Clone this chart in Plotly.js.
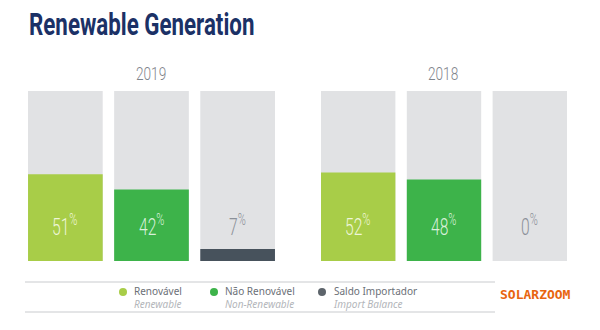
<!DOCTYPE html>
<html>
<head>
<meta charset="utf-8">
<script src="https://cdn.plot.ly/plotly-3.0.1.min.js"></script>
<style>html,body{margin:0;padding:0;background:#fff;}#chart{width:600px;height:330px;}</style>
</head>
<body>
<div id="chart"></div>
<script>
// ---- data ----
const years = ['2019', '2018'];
const categories = ['Renovável', 'Não Renovável', 'Saldo Importador'];
const categoriesEn = ['Renewable', 'Non-Renewable', 'Import Balance'];
const values2019 = [51, 42, 7];
const values2018 = [52, 48, 0];
const totalShare = [100, 100, 100];

// ---- styles ----
const fillColors = ['#a8cd48', '#3db34a', '#47525c'];
const legendColors = ['#a8cd48', '#3db34a', '#5d646b'];
const bgColor = '#e1e2e4';
const labelColors = ['#eef6d8', '#d8f0da', '#8b9098'];
const condFont = 'Roboto, Noto Sans, sans-serif';
const W = 600, H = 330;
const px = x => x / W;
const py = y => 1 - y / H;

const seriesByYear = [values2019, values2018];
const traces = [];
const annotations = [];
const condensed = []; // [annotation index, scale, anchor]
seriesByYear.forEach((vals, gi) => {
  const xa = gi === 0 ? 'x' : 'x2';
  traces.push({
    type: 'bar', x: categories, y: totalShare, xaxis: xa, yaxis: 'y',
    marker: {color: bgColor}, hoverinfo: 'skip', showlegend: false
  });
  traces.push({
    type: 'bar', x: categories, y: vals, xaxis: xa, yaxis: 'y',
    marker: {color: fillColors}, showlegend: false
  });
  vals.forEach((v, i) => {
    const inside = v > 21;
    condensed.push([annotations.length, 0.68, 'center']);
    annotations.push({
      xref: xa, yref: 'y', x: categories[i], y: 21,
      text: v + '<sup>%</sup>', showarrow: false,
      font: {family: condFont, size: 23, weight: 300,
             color: inside ? labelColors[i] : labelColors[2]},
      xanchor: 'center', yanchor: 'middle'
    });
  });
});

// year headers
const yearCenters = [151, 443];
years.forEach((yr, gi) => {
  condensed.push([annotations.length, 0.72, 'center']);
  annotations.push({
    xref: 'paper', yref: 'paper', x: px(yearCenters[gi]), y: py(73),
    text: yr, showarrow: false, xanchor: 'center', yanchor: 'middle',
    font: {family: condFont, size: 19, weight: 300, color: '#7f858c'}
  });
});

// title
condensed.push([annotations.length, 0.72, 'left']);
annotations.push({
  xref: 'paper', yref: 'paper', x: px(27), y: py(24), xanchor: 'left', yanchor: 'middle',
  text: '<b>Renewable Generation</b>', showarrow: false,
  font: {family: condFont, size: 31, color: '#1b3166'}
});

// legend
const legendX = [123, 214, 322];
const shapes = [
  {type: 'line', xref: 'paper', yref: 'paper', x0: px(25), x1: px(495), y0: py(282), y1: py(282), line: {color: '#c9cbce', width: 1}},
  {type: 'line', xref: 'paper', yref: 'paper', x0: px(25), x1: px(495), y0: py(312), y1: py(312), line: {color: '#c9cbce', width: 1}}
];
categories.forEach((c, i) => {
  const cx = legendX[i], cy = 292;
  shapes.push({type: 'circle', xref: 'paper', yref: 'paper',
    x0: px(cx - 4), x1: px(cx + 4), y0: py(cy + 4), y1: py(cy - 4),
    fillcolor: legendColors[i], line: {width: 0}});
  annotations.push({xref: 'paper', yref: 'paper', x: px(cx + 9), y: py(297.5), xanchor: 'left', yanchor: 'middle',
    align: 'left',
    text: c + '<br><span style="color:#b3b6ba"><i>' + categoriesEn[i] + '</i></span>', showarrow: false,
    font: {family: 'Noto Sans, sans-serif', size: 10, color: '#6b7077'}});
});
annotations.push({xref: 'paper', yref: 'paper', x: px(498), y: py(294), xanchor: 'left', yanchor: 'middle',
  text: '<b>SOLARZOOM</b>', showarrow: false, font: {family: 'DejaVu Sans Mono, monospace', size: 13, color: '#e8650f'}});

const axisCommon = {type: 'category', showticklabels: false, showgrid: false, zeroline: false, showline: false, ticks: '', fixedrange: true};
const layout = {
  width: W, height: H,
  margin: {l: 0, r: 0, t: 0, b: 0},
  paper_bgcolor: '#ffffff', plot_bgcolor: 'rgba(0,0,0,0)',
  barmode: 'overlay', bargap: 0.133,
  showlegend: false,
  xaxis: Object.assign({domain: [px(22.3), px(280.7)]}, axisCommon),
  xaxis2: Object.assign({domain: [px(315.3), px(572.7)], anchor: 'y'}, axisCommon),
  yaxis: {range: [0, 100], domain: [1 - 261 / H, 1 - 91 / H], showticklabels: false, showgrid: false, zeroline: false, showline: false, ticks: ''},
  annotations: annotations,
  shapes: shapes
};
Plotly.newPlot('chart', traces, layout, {staticPlot: true, displayModeBar: false}).then(gd => {
  // emulate the condensed typeface of the original by narrowing selected texts
  const groups = gd.querySelectorAll('.annotation');
  condensed.forEach(([idx, s, anchor]) => {
    const g = Array.from(groups).find(el => el.getAttribute('data-index') === String(idx));
    if (!g) return;
    const t = g.querySelector('text.annotation-text');
    if (!t) return;
    const bb = t.getBBox();
    const ax = anchor === 'left' ? bb.x : bb.x + bb.width / 2;
    const prev = t.getAttribute('transform') || '';
    t.setAttribute('transform', `${prev} translate(${ax * (1 - s)},0) scale(${s},1)`);
  });
});
</script>
</body>
</html>
